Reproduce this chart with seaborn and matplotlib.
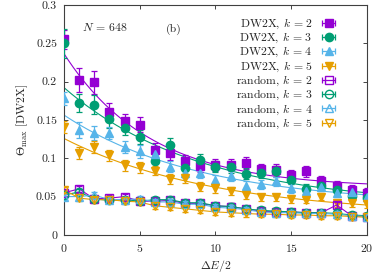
import numpy as np
import pandas as pd
import seaborn as sns
import matplotlib
matplotlib.use("Agg")
import matplotlib.pyplot as plt
from matplotlib.lines import Line2D
from matplotlib.legend_handler import HandlerLine2D, HandlerTuple

delta_e = list(range(21))

dw2x_k2 = [0.255, 0.202, 0.199, 0.160, 0.148, 0.144, 0.111, 0.107, 0.096, 0.090, 0.091,
           0.091, 0.094, 0.086, 0.085, 0.078, 0.083, 0.070, 0.064, 0.059, 0.055]
dw2x_k3 = [0.250, 0.172, 0.170, 0.151, 0.140, 0.128, 0.096, 0.117, 0.087, 0.098, 0.089,
           0.088, 0.080, 0.081, 0.083, 0.072, 0.060, 0.064, 0.059, 0.051, 0.048]
dw2x_k4 = [0.178, 0.137, 0.133, 0.133, 0.115, 0.109, 0.106, 0.089, 0.081, 0.081, 0.072,
           0.077, 0.064, 0.066, 0.070, 0.061, 0.057, 0.063, 0.055, 0.056, 0.050]
dw2x_k5 = [0.141, 0.107, 0.115, 0.104, 0.091, 0.088, 0.084, 0.073, 0.074, 0.063, 0.061,
           0.057, 0.052, 0.049, 0.049, 0.047, 0.046, 0.050, 0.041, 0.041, 0.040]

err_k2 = [0.013, 0.016, 0.015, 0.012, 0.010, 0.010, 0.009, 0.009, 0.008, 0.008, 0.008,
          0.008, 0.008, 0.007, 0.007, 0.007, 0.007, 0.007, 0.006, 0.006, 0.006]
err_k3 = [0.019, 0.012, 0.012, 0.012, 0.010, 0.009, 0.008, 0.010, 0.008, 0.008, 0.007,
          0.007, 0.007, 0.007, 0.007, 0.006, 0.006, 0.006, 0.006, 0.006, 0.005]
err_k4 = [0.009, 0.010, 0.009, 0.008, 0.008, 0.008, 0.007, 0.007, 0.007, 0.007, 0.006,
          0.007, 0.006, 0.006, 0.006, 0.006, 0.006, 0.006, 0.005, 0.005, 0.005]
err_k5 = [0.008, 0.008, 0.008, 0.007, 0.007, 0.007, 0.006, 0.006, 0.006, 0.006, 0.006,
          0.005, 0.005, 0.005, 0.005, 0.005, 0.005, 0.005, 0.005, 0.005, 0.005]

rand_k2 = [0.055, 0.060, 0.047, 0.048, 0.050, 0.044, 0.044, 0.045, 0.041, 0.041, 0.038,
           0.037, 0.034, 0.031, 0.030, 0.030, 0.029, 0.029, 0.039, 0.025, 0.024]
rand_k3 = [0.052, 0.056, 0.047, 0.045, 0.046, 0.044, 0.046, 0.046, 0.042, 0.042, 0.038,
           0.037, 0.034, 0.032, 0.031, 0.030, 0.029, 0.029, 0.028, 0.026, 0.025]
rand_k4 = [0.050, 0.050, 0.052, 0.046, 0.046, 0.047, 0.043, 0.043, 0.040, 0.040, 0.036,
           0.035, 0.033, 0.030, 0.029, 0.029, 0.028, 0.028, 0.027, 0.025, 0.024]
rand_k5 = [0.059, 0.048, 0.046, 0.046, 0.044, 0.043, 0.038, 0.036, 0.034, 0.032, 0.030,
           0.029, 0.028, 0.027, 0.027, 0.026, 0.026, 0.025, 0.025, 0.024, 0.023]
rand_err = [0.004] * 21

ks = [2, 3, 4, 5]
colors = ["#9400D3", "#009E73", "#56B4E9", "#E69F00"]
markers = ["s", "o", "^", "v"]
dw2x = [dw2x_k2, dw2x_k3, dw2x_k4, dw2x_k5]
dw2x_err = [err_k2, err_k3, err_k4, err_k5]
rand = [rand_k2, rand_k3, rand_k4, rand_k5]


def fit_exp(x, y):
    # y = a*exp(-b x) + c, scan b and solve linear part (x=0 left out of the fit)
    x = np.asarray(x, float)[1:]
    y = np.asarray(y, float)[1:]
    best = None
    for b in np.linspace(0.005, 1.0, 800):
        A = np.column_stack([np.exp(-b * x), np.ones_like(x)])
        coef, *_ = np.linalg.lstsq(A, y, rcond=None)
        r = np.sum((A @ coef - y) ** 2)
        if best is None or r < best[0]:
            best = (r, b, coef)
    _, b, (a, c) = best
    xs = np.linspace(0, 20, 200)
    return xs, a * np.exp(-b * xs) + c


sns.set_style("ticks")
plt.rcParams["font.family"] = "serif"
plt.rcParams["font.serif"] = ["cmr10", "DejaVu Serif"]
plt.rcParams["mathtext.fontset"] = "cm"
plt.rcParams["axes.formatter.use_mathtext"] = True
plt.rcParams["font.size"] = 8.5

fig = plt.figure(figsize=(3.74, 2.78), dpi=100)
ax = fig.add_axes([0.171, 0.155, 0.81, 0.827])

handles, labels, hmap = [], [], {}
for i, k in enumerate(ks):
    c = colors[i]
    xs, ys = fit_exp(delta_e, dw2x[i])
    fit_df = pd.DataFrame({"x": xs, "y": ys})
    sns.lineplot(data=fit_df, x="x", y="y", color=c, lw=0.8, ax=ax, zorder=2)
    ax.errorbar(delta_e, dw2x[i], yerr=dw2x_err[i], fmt=markers[i], color=c, ms=6,
                elinewidth=0.9, capsize=2, capthick=0.9, zorder=3)
for i, k in enumerate(ks):
    c = colors[i]
    rdf = pd.DataFrame({"x": delta_e, "y": rand[i]})
    sns.lineplot(data=rdf, x="x", y="y", color=c, lw=0.8, ax=ax, zorder=4)
    ax.errorbar(delta_e, rand[i], yerr=rand_err, fmt=markers[i], color=c, ms=6,
                mfc="none", mew=1.0, elinewidth=0.9, capsize=2, capthick=0.9, zorder=5)

for kind in ["DW2X", "random"]:
    for i, k in enumerate(ks):
        c = colors[i]
        bar = Line2D([], [], color=c, lw=0.9, marker="|", ms=5, mew=0.9)
        mk = Line2D([], [], color=c, lw=0, marker=markers[i], ms=6,
                    mfc=c if kind == "DW2X" else "none", mew=1.0)
        hmap[bar] = HandlerLine2D(numpoints=2)
        handles.append((bar, mk))
        labels.append(f"{kind}, $k\\,=\\,{k}$")
hmap[tuple] = HandlerTuple(ndivide=1)

ax.legend(handles, labels, handler_map=hmap, loc="upper right", bbox_to_anchor=(0.915, 0.96),
          frameon=False, markerfirst=False, handlelength=1.7, handletextpad=0.5,
          labelspacing=0.0, borderaxespad=0, borderpad=0.2, numpoints=1, fontsize=8.5)

ax.text(0.06, 0.885, "$N\\,=\\,648$", transform=ax.transAxes, fontsize=8.5)
ax.text(0.335, 0.885, "(b)", transform=ax.transAxes, fontsize=8.5)

ax.set_xlim(0, 20)
ax.set_ylim(0, 0.3)
ax.set_xticks([0, 5, 10, 15, 20])
ax.set_yticks([0, 0.05, 0.1, 0.15, 0.2, 0.25, 0.3])
ax.set_yticklabels(["0", "0.05", "0.1", "0.15", "0.2", "0.25", "0.3"])
ax.tick_params(direction="in", top=True, right=True, length=3, width=0.6, labelsize=8.5, pad=5)
for s in ax.spines.values():
    s.set_linewidth(0.8)
    s.set_color("#404040")
ax.set_xlabel("$\\Delta E/2$", fontsize=8.5, labelpad=3)
ax.set_ylabel("$\\Theta_{\\max}\\ [\\mathrm{DW2X}]$", fontsize=8.5, labelpad=4)

fig.savefig("out.png", dpi=100)
